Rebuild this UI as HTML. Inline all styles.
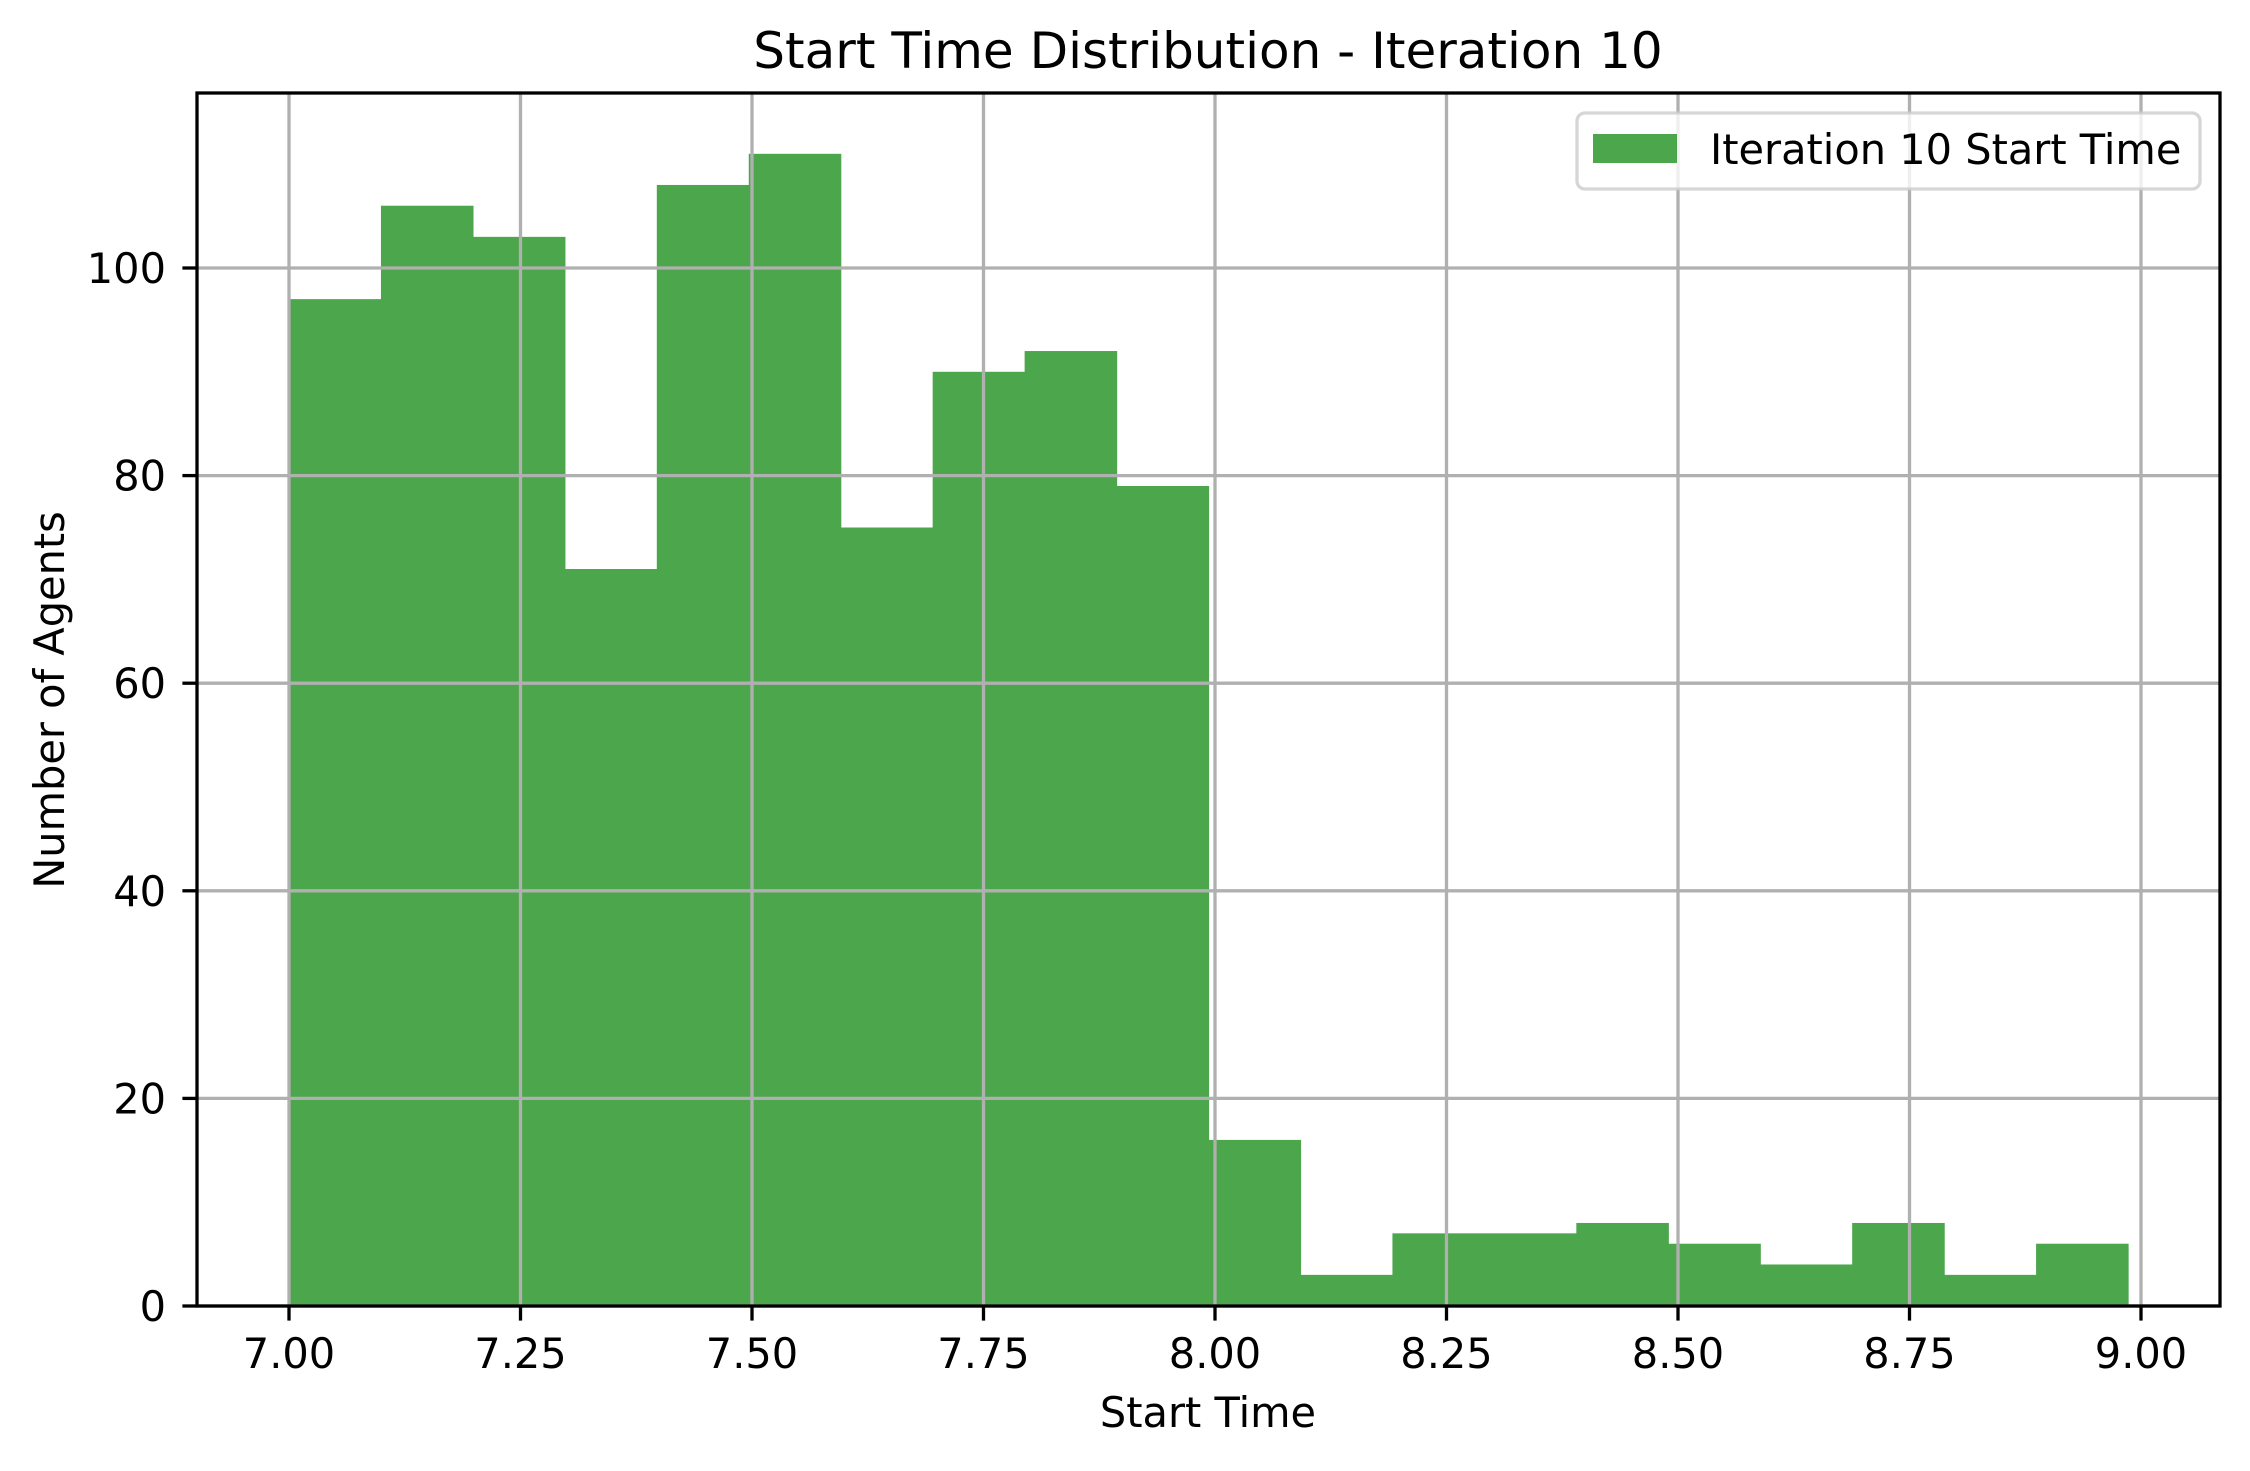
<!DOCTYPE html>
<html><head><meta charset="utf-8"><style>
body{margin:0;background:#fff}
svg text{font-family:"DejaVu Sans","Liberation Sans",sans-serif;fill:#000}
</style></head><body>
<svg width="2250" height="1466" viewBox="0 0 2250 1466" xmlns="http://www.w3.org/2000/svg">
<rect width="2250" height="1466" fill="#fff"/>
<g id="bars"></g>
<g id="grid"></g>
<g id="axes"></g>
<text x="1208" y="68" font-size="50" text-anchor="middle">Start Time Distribution - Iteration 10</text>
<text x="1208" y="1427" font-size="41.5" text-anchor="middle">Start Time</text>
<text x="64" y="700" font-size="41.5" text-anchor="middle" transform="rotate(-90 64 700)">Number of Agents</text>
<g>
<rect x="1577" y="113" width="623" height="76" rx="8" fill="#fff" fill-opacity="0.8" stroke="#ccc" stroke-opacity="0.8" stroke-width="3.3"/>
<rect x="1593" y="134" width="84" height="29" fill="green" fill-opacity="0.7"/>
<text x="1710" y="164" font-size="41.5">Iteration 10 Start Time</text>
</g>
</svg>
<script>
const binStart = 7.0;
const binWidth = 0.0993;
const counts = [97,106,103,71,108,111,75,90,92,79,16,3,7,7,8,6,4,8,3,6];
const xTicks = [7.0,7.25,7.5,7.75,8.0,8.25,8.5,8.75,9.0];
const xTickLabels = ["7.00","7.25","7.50","7.75","8.00","8.25","8.50","8.75","9.00"];
const yTicks = [0,20,40,60,80,100];
const yTickLabels = ["0","20","40","60","80","100"];

const L=197,R=2220,T=93,B=1306;
const sx=v=>289+(v-7.0)*926;
const sy=v=>B-v*10.38;
const NS="http://www.w3.org/2000/svg";
function mk(tag,attrs,parent){const e=document.createElementNS(NS,tag);for(const k in attrs)e.setAttribute(k,attrs[k]);parent.appendChild(e);return e;}
const grid=document.getElementById('grid'),bars=document.getElementById('bars'),axes=document.getElementById('axes');
counts.forEach((c,i)=>{
  const x0=sx(binStart+i*binWidth),x1=sx(binStart+(i+1)*binWidth);
  const r=mk('rect',{x:x0,y:sy(c),width:x1-x0+0.6,height:B-sy(c),fill:'#4ca64c'},bars);
  
  
});
xTicks.forEach((t,i)=>{
  const g=mk('line',{x1:sx(t),x2:sx(t),y1:T,y2:B,stroke:'#b0b0b0','stroke-width':3.3},grid);
  
  
  const tk=mk('line',{x1:sx(t),x2:sx(t),y1:B,y2:B+14.6,stroke:'#000','stroke-width':3.3},axes);
  
  
  const tx=mk('text',{x:sx(t),y:1368,'font-size':41.5,'text-anchor':'middle'},axes);
  tx.textContent=xTickLabels[i];
  
  
});
yTicks.forEach((t,i)=>{
  const g=mk('line',{x1:L,x2:R,y1:sy(t),y2:sy(t),stroke:'#b0b0b0','stroke-width':3.3},grid);
  
  
  const tk=mk('line',{x1:L-14.6,x2:L,y1:sy(t),y2:sy(t),stroke:'#000','stroke-width':3.3},axes);
  
  
  const tx=mk('text',{x:166,y:sy(t)+15,'font-size':41.5,'text-anchor':'end'},axes);
  tx.textContent=yTickLabels[i];
  
  
});
const fr=mk('rect',{x:L,y:T,width:R-L,height:B-T,fill:'none',stroke:'#000','stroke-width':3.3},axes);


</script>
</body></html>
